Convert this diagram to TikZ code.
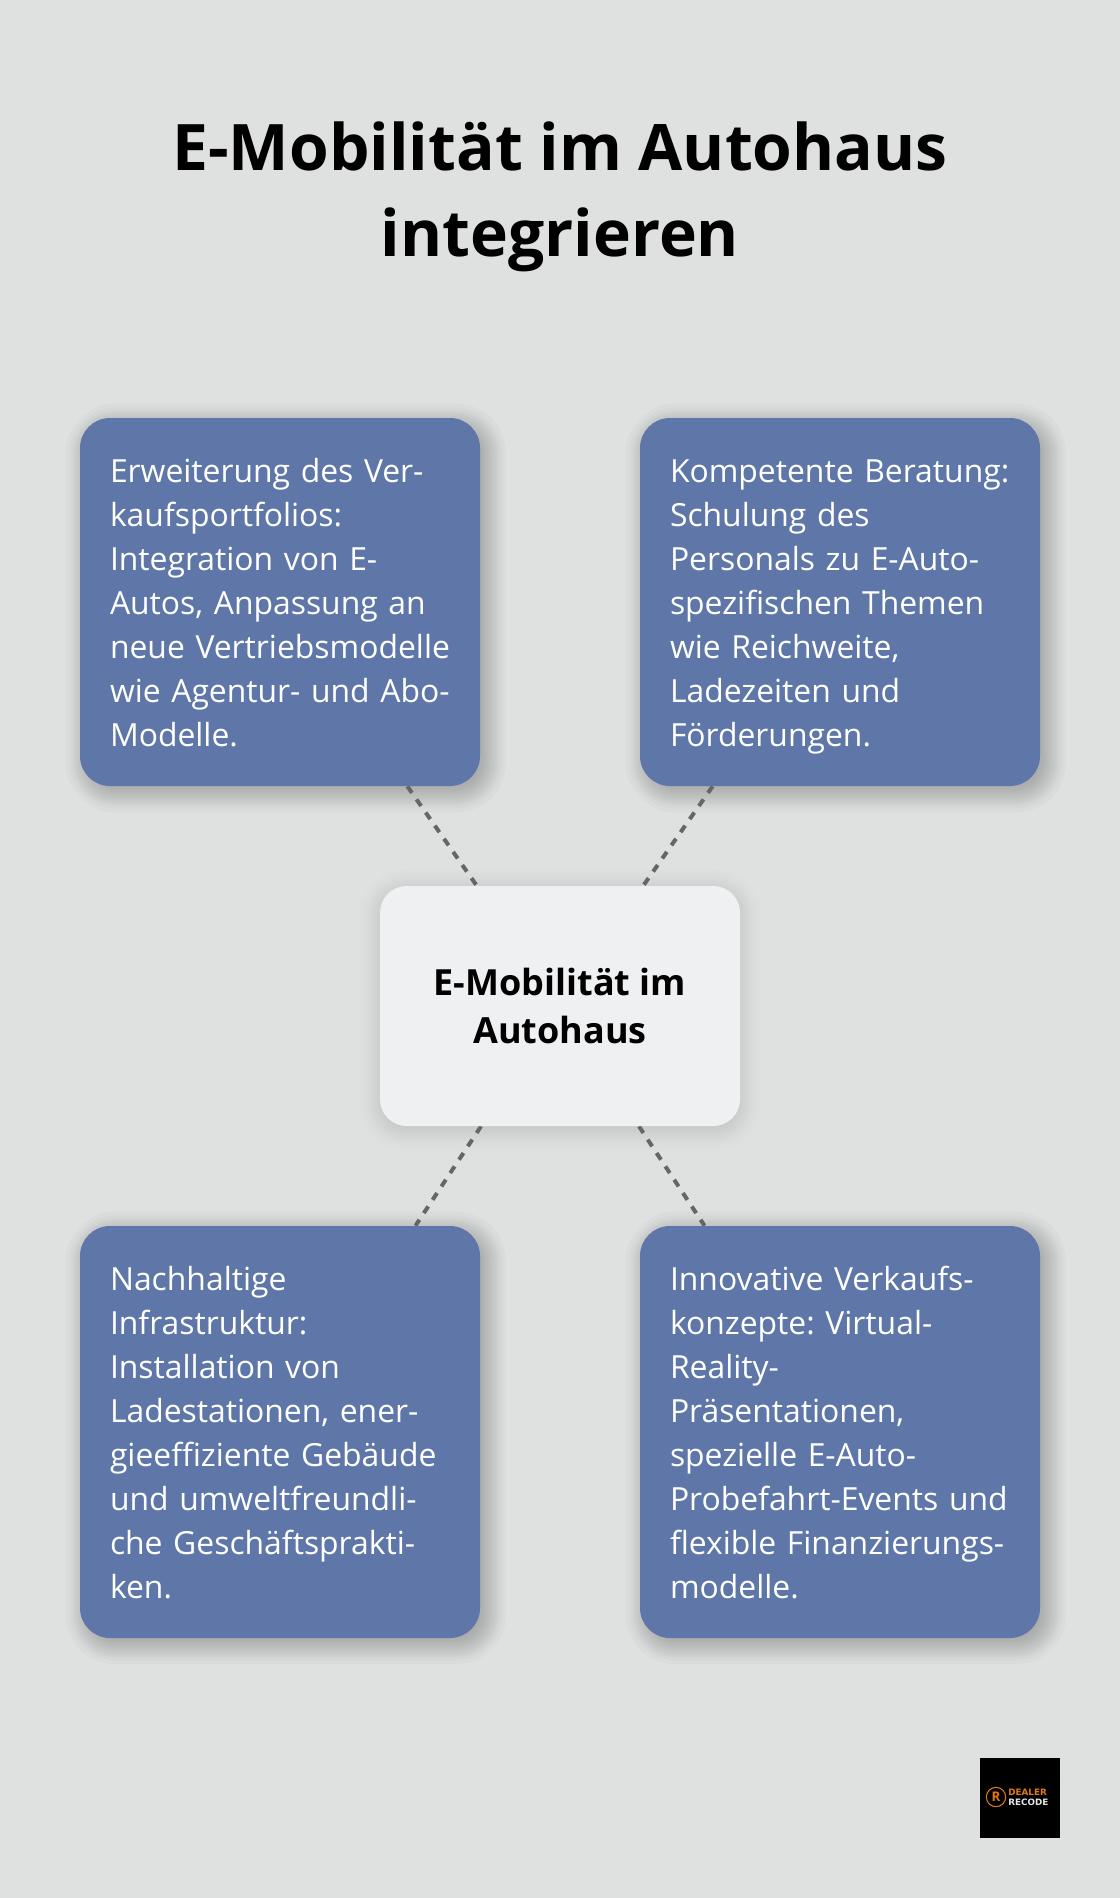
\documentclass[tikz,border=0pt]{standalone}
\usepackage{fontspec}
\setmainfont{Open Sans}
\newfontfamily\logofont{DejaVu Sans}
\usepackage{xcolor}
\usepackage{tikz}
\usetikzlibrary{backgrounds}
\definecolor{pagegray}{HTML}{DFE1E0}
\definecolor{cardblue}{HTML}{5E77A8}
\definecolor{hubgray}{HTML}{EFF0F2}
\definecolor{logoorange}{HTML}{E07B10}
% soft shadow: stacked translucent boxes behind a node
\newcommand{\softshadow}[5]{%
  \foreach \s in {20,16,13,11,9,7,5,3,1,-1,-3,-6} {
    \fill[black,opacity=#4,rounded corners={(#5+.75*\s)*1pt}]
      ([shift={(#2-\s,#3-\s)}]#1.north west) rectangle ([shift={(#2+\s,#3+\s)}]#1.south east);
  }}

\begin{document}
\begin{tikzpicture}[x=.75pt,y=-.75pt]
  \tikzstyle{card}=[fill=cardblue, text=white, rounded corners=22.5pt, minimum width=300pt,
    text width=300pt, inner xsep=0pt, inner ysep=0pt, align=left,
    execute at begin node={\leftskip=22.5pt\frenchspacing\rule{0pt}{28.5pt}},
    execute at end node={\strut},
    font={\fontsize{23.9}{33}\selectfont}] % the four outer boxes
  \tikzstyle{hub}=[fill=hubgray, rounded corners=20pt, minimum width=270pt, minimum height=180pt,
    align=center, font={\fontsize{27}{36}\selectfont\bfseries}]
  \tikzstyle{link}=[draw=black!60, line width=3pt, dash pattern=on 6pt off 6pt]
  \tikzstyle{logotxt}=[inner sep=0pt, font={\logofont\fontsize{6.6}{7}\selectfont\bfseries}]
  \useasboundingbox (0,0) rectangle (1120,1898);

  \node (title) [align=center, font={\fontsize{48.1}{64}\selectfont\bfseries}] at (560,197)
    {E-Mobilität im Autohaus\\integrieren};

  \node (sales) [card, minimum height=276pt] at (280,602)
    {Erweiterung des Ver-\\kaufsportfolios:\\Integration von E-\\Autos, Anpassung an\\neue Vertriebsmodelle\\wie Agentur- und Abo-\\Modelle.};
  \node (advice) [card, minimum height=276pt] at (840,602)
    {Kompetente Beratung:\\Schulung des\\Personals zu E-Auto-\\spezifischen Themen\\wie Reichweite,\\Ladezeiten und\\Förderungen.};
  \node (infra) [card, minimum height=309pt] at (280,1432)
    {Nachhaltige\\Infrastruktur:\\Installation von\\Ladestationen, ener-\\gieeffiziente Gebäude\\und umweltfreundli-\\che Geschäftsprakti-\\ken.};
  \node (concepts) [card, minimum height=309pt] at (840,1432)
    {Innovative Verkaufs-\\konzepte: Virtual-\\Reality-\\Präsentationen,\\spezielle E-Auto-\\Probefahrt-Events und\\flexible Finanzierungs-\\modelle.};
  \node (hub) [hub] at (560,1006) {E-Mobilität im\\Autohaus};

  \node (logo) [fill=black, minimum size=60pt, inner sep=0pt] at (1020,1798) {};
  \node (ring) [draw=logoorange, circle, line width=.8pt, minimum size=14.5pt, inner sep=0pt,
    text=logoorange, font={\fontsize{10}{10}\selectfont\bfseries}] at (996,1797) {R};
  \node (dealer) [logotxt, text=logoorange, anchor=west] at (1008,1792.5) {DEALER};
  \node (recode) [logotxt, text=black!10, anchor=west] at (1008,1802.5) {RECODE};

  \begin{scope}[on background layer]
    \fill[pagegray] (0,0) rectangle (1120,1898);
    \softshadow{sales}{6}{6}{.02}{22.5}
    \softshadow{advice}{6}{6}{.02}{22.5}
    \softshadow{infra}{6}{6}{.02}{22.5}
    \softshadow{concepts}{6}{6}{.02}{22.5}
    \softshadow{hub}{0}{4}{.008}{20}
    \draw[link] (sales) -- (hub);
    \draw[link] (advice) -- (hub);
    \draw[link] (hub) -- (infra);
    \draw[link] (hub) -- (concepts);
  \end{scope}
\end{tikzpicture}
\end{document}
